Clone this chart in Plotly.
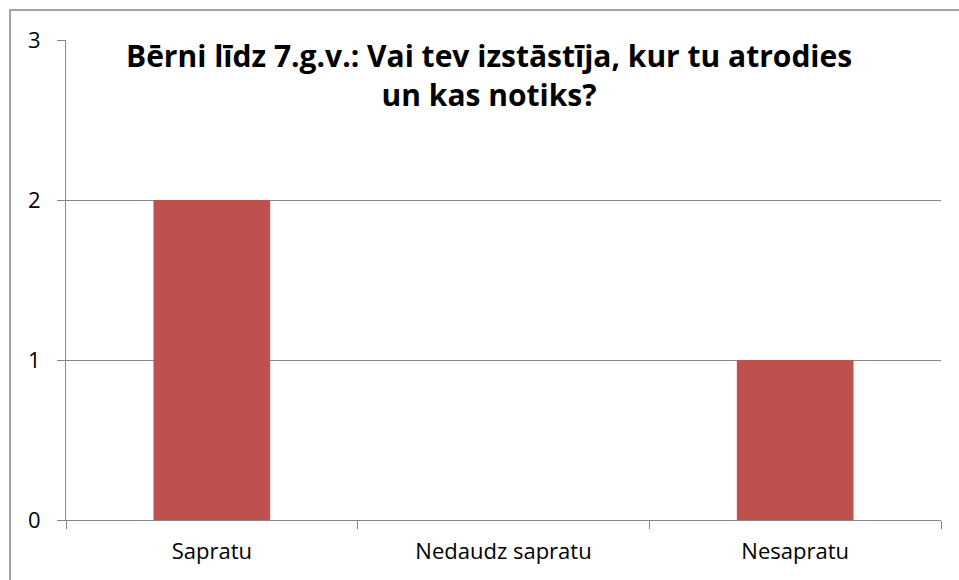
import plotly.graph_objects as go

categories = ["Sapratu", "Nedaudz sapratu", "Nesapratu"]
values = [2, 0, 1]
y_ticks = [0, 1, 2, 3]
title_text = "Bērni līdz 7.g.v.: Vai tev izstāstīja, kur tu atrodies<br>un kas notiks?"

GRID = "#878787"
BAR = "#C0504D"
FONT = "Open Sans, Lato, sans-serif"

fig = go.Figure(go.Bar(x=categories, y=values, marker=dict(color=BAR, line=dict(width=0)),
                       hoverinfo="x+y"))

fig.update_layout(
    width=959, height=580,
    margin=dict(l=66, r=18, t=40, b=60),
    paper_bgcolor="white", plot_bgcolor="white",
    bargap=0.6,
    showlegend=False,
    font=dict(family=FONT, color="black", size=22),
    title=dict(text=title_text, x=0.51, xanchor="center", y=0.885, yanchor="top",
               yref="container",
               font=dict(family=FONT, size=30, color="black", weight="bold")),
    xaxis=dict(showline=True, linecolor=GRID, linewidth=1, ticks="outside",
               tickson="boundaries", ticklen=8, tickcolor=GRID, tickwidth=1,
               showgrid=False, tickfont=dict(size=22, family=FONT),
               ticklabelstandoff=12, fixedrange=True),
    yaxis=dict(range=[0, 3], tickvals=y_ticks, showline=True, linecolor=GRID, linewidth=1,
               ticks="outside", ticklen=8, tickcolor=GRID, tickwidth=1,
               showgrid=True, gridcolor=GRID, gridwidth=1, zeroline=False,
               tickfont=dict(size=22, family=FONT), ticklabelstandoff=12, fixedrange=True),
    shapes=[dict(type="rect", xref="paper", yref="paper",
                 x0=(10 - 66) / 875, x1=1.2, y0=-0.3, y1=(520 - 10) / 480,
                 line=dict(color=GRID, width=1.5), fillcolor="rgba(0,0,0,0)", layer="below")],
)

fig.write_html("out.html", config={"displayModeBar": False},
               post_script="document.body.style.margin='0';")
